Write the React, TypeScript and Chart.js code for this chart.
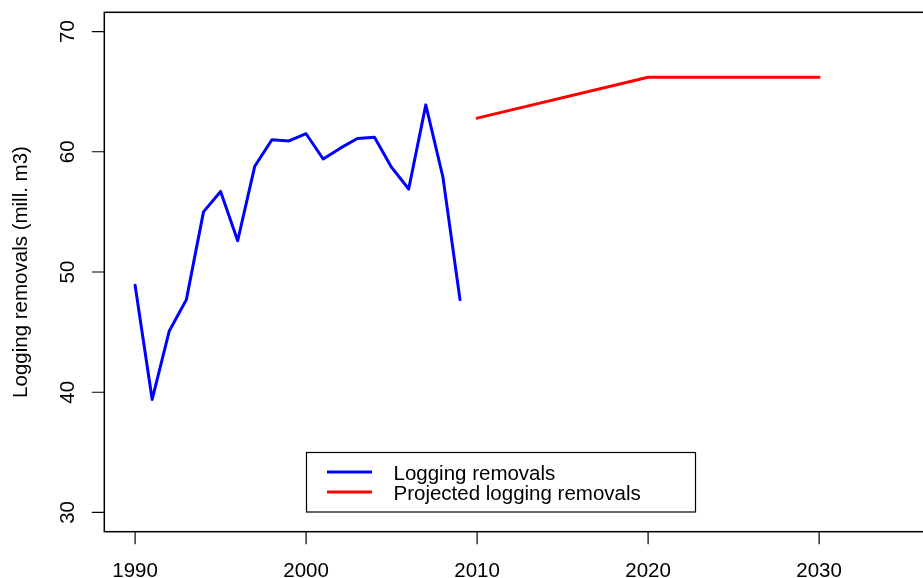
import React, { useEffect, useRef } from "react";
import { Chart, registerables } from "chart.js";

Chart.register(...registerables);

// Observed logging removals, 1990-2009 (mill. m3)
const years = [
  1990, 1991, 1992, 1993, 1994, 1995, 1996, 1997, 1998, 1999,
  2000, 2001, 2002, 2003, 2004, 2005, 2006, 2007, 2008, 2009,
];
const removals = [
  48.9, 39.4, 45.1, 47.7, 55.0, 56.7, 52.6, 58.8, 61.0, 60.9,
  61.5, 59.4, 60.3, 61.1, 61.2, 58.7, 56.9, 63.9, 57.9, 47.7,
];

// Projection
const projYears = [2010, 2020, 2030];
const projRemovals = [62.8, 66.2, 66.2];

// Axis ticks and labels
const xTicks = [1990, 2000, 2010, 2020, 2030];
const yTicks = [30, 40, 50, 60, 70];
const yTitle = "Logging removals (mill. m3)";
const legendLabels = ["Logging removals", "Projected logging removals"];
const legendColors = ["#0000ff", "#ff0000"];

const FONT = '20.5px "Liberation Sans", Arial, Helvetica, sans-serif';

const basePlot = {
  id: "basePlot",
  afterDraw(chart: any) {
    const { ctx, chartArea } = chart;
    const { left, right, top, bottom } = chartArea;
    const xs = chart.scales.x;
    const ys = chart.scales.y;
    ctx.save();
    ctx.strokeStyle = "#000";
    ctx.fillStyle = "#000";

    // plot frame
    ctx.lineWidth = 1.5;
    ctx.strokeRect(left, top, right - left, bottom - top);

    // tick marks
    ctx.lineWidth = 1.2;
    ctx.beginPath();
    xTicks.forEach((v) => {
      const px = xs.getPixelForValue(v);
      ctx.moveTo(px, bottom);
      ctx.lineTo(px, bottom + 12.5);
    });
    yTicks.forEach((v) => {
      const py = ys.getPixelForValue(v);
      ctx.moveTo(left, py);
      ctx.lineTo(left - 12.5, py);
    });
    ctx.stroke();

    ctx.font = FONT;
    // x tick labels
    ctx.textAlign = "center";
    ctx.textBaseline = "alphabetic";
    xTicks.forEach((v) => {
      ctx.fillText(String(v), xs.getPixelForValue(v), 576.5);
    });

    // y tick labels, rotated
    yTicks.forEach((v) => {
      ctx.save();
      ctx.translate(73.5, ys.getPixelForValue(v));
      ctx.rotate(-Math.PI / 2);
      ctx.fillText(String(v), 0, 0);
      ctx.restore();
    });

    // y axis title
    ctx.save();
    ctx.translate(26.5, (top + bottom) / 2);
    ctx.rotate(-Math.PI / 2);
    ctx.fillText(yTitle, 0, 0);
    ctx.restore();

    // legend
    ctx.lineWidth = 1.2;
    ctx.strokeRect(306.5, 452.5, 389, 59.5);
    ctx.textAlign = "left";
    legendLabels.forEach((label, i) => {
      const y = 472 + i * 20;
      ctx.strokeStyle = legendColors[i];
      ctx.lineWidth = 3;
      ctx.beginPath();
      ctx.moveTo(327, y);
      ctx.lineTo(372, y);
      ctx.stroke();
      ctx.fillStyle = "#000";
      ctx.fillText(label, 393.5, y + 7.5);
    });
    ctx.restore();
  },
};

export default function App() {
  const canvasRef = useRef<HTMLCanvasElement | null>(null);

  useEffect(() => {
    if (!canvasRef.current) return;
    const chart = new Chart(canvasRef.current, {
      type: "line",
      data: {
        datasets: [
          {
            label: legendLabels[0],
            data: years.map((x, i) => ({ x, y: removals[i] })),
            borderColor: legendColors[0],
            borderWidth: 3,
            borderCapStyle: "round",
            borderJoinStyle: "round",
            pointRadius: 0,
            tension: 0,
          },
          {
            label: legendLabels[1],
            data: projYears.map((x, i) => ({ x, y: projRemovals[i] })),
            borderColor: legendColors[1],
            borderWidth: 3,
            borderCapStyle: "round",
            borderJoinStyle: "round",
            pointRadius: 0,
            tension: 0,
          },
        ],
      },
      options: {
        animation: false,
        responsive: false,
        devicePixelRatio: 1,
        layout: { padding: { left: 104.3, top: 12.3, right: 4.6, bottom: 46.3 } },
        plugins: { legend: { display: false }, tooltip: { enabled: false } },
        scales: {
          x: { type: "linear", min: 1988.2, max: 2036.8, display: false },
          y: { type: "linear", min: 28.4, max: 71.6, display: false },
        },
      },
      plugins: [basePlot],
    });
    return () => chart.destroy();
  }, []);

  return (
    <div
      style={{
        position: "fixed",
        left: 0,
        top: 0,
        width: 923,
        height: 578,
        overflow: "hidden",
        background: "#fff",
      }}
    >
      <canvas ref={canvasRef} width={940} height={578} style={{ display: "block" }} />
    </div>
  );
}
